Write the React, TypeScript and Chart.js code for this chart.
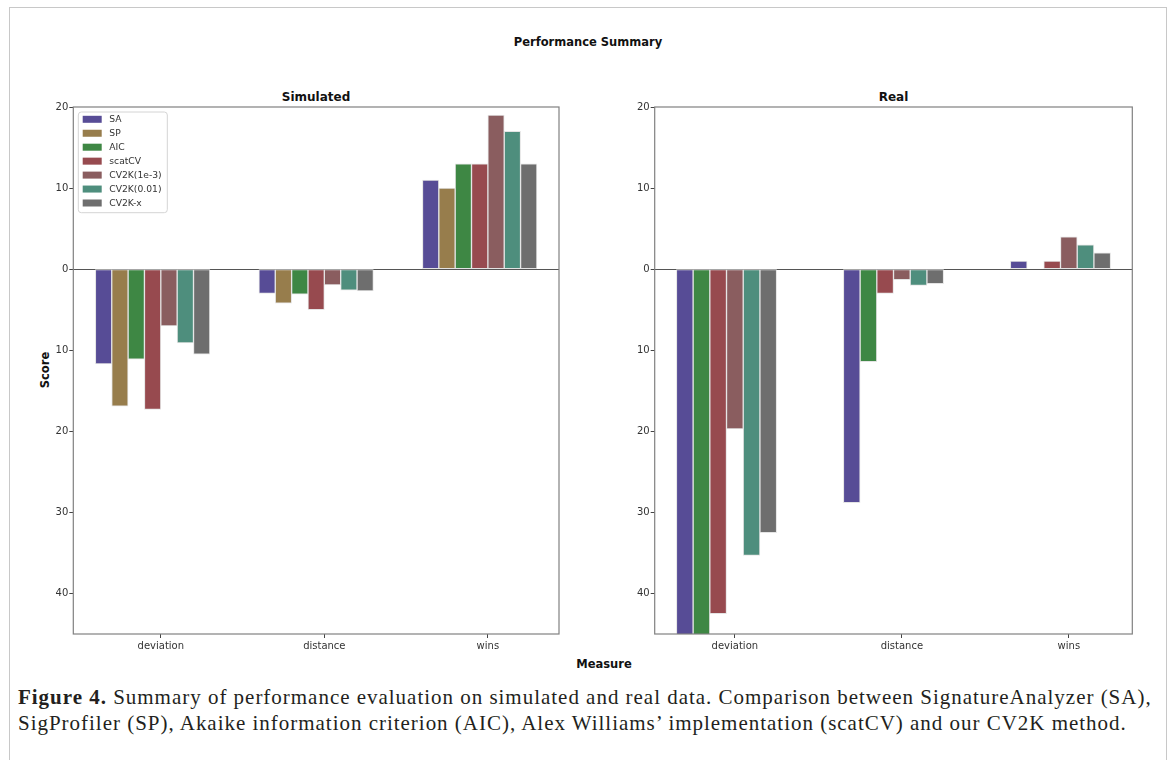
import React, { useEffect, useRef } from 'react';
import { Chart, registerables } from 'chart.js';

Chart.register(...registerables);

// ---------- data ----------
const categories = ['deviation', 'distance', 'wins'];
const methods = ['SA', 'SP', 'AIC', 'scatCV', 'CV2K(1e-3)', 'CV2K(0.01)', 'CV2K-x'];
const yTickValues = [-40, -30, -20, -10, 0, 10, 20];

// Simulated (one value per category)
const simSA = [-11.7, -3.0, 11];
const simSP = [-16.9, -4.2, 10];
const simAIC = [-11.1, -3.1, 13];
const simScatCV = [-17.3, -5.0, 13];
const simCV2K1e3 = [-7.0, -1.95, 19];
const simCV2K001 = [-9.1, -2.6, 17];
const simCV2Kx = [-10.5, -2.7, 13];

// Real (SP not available)
const realSA = [-52, -28.8, 1];
const realSP: number[] | null = null;
const realAIC = [-50, -11.4, 0];
const realScatCV = [-42.5, -3.0, 1];
const realCV2K1e3 = [-19.7, -1.3, 4];
const realCV2K001 = [-35.3, -2.0, 3];
const realCV2Kx = [-32.5, -1.8, 2];

const simSeries = [simSA, simSP, simAIC, simScatCV, simCV2K1e3, simCV2K001, simCV2Kx];
const realSeries = [realSA, realSP, realAIC, realScatCV, realCV2K1e3, realCV2K001, realCV2Kx];

// ---------- styles ----------
const palette = ['#574c96', '#977d4c', '#3e8744', '#974a4f', '#8a5d5f', '#4e8e7d', '#6e6e6e'];
const BAR_W = 0.1;
const FONT = "'DejaVu Sans', sans-serif";

function buildDatasets(series: (number[] | null)[]) {
  const present = series.map((s, i) => (s ? i : -1)).filter((i) => i >= 0);
  const n = present.length;
  return present.map((mi, k) => ({
    label: methods[mi],
    data: categories.map((_, ci) => ({ x: ci + (k - n / 2) * BAR_W, y: (series[mi] as number[])[ci] })),
    backgroundColor: palette[mi],
    borderColor: '#e4e4e4',
    borderWidth: 1,
    borderSkipped: false as const,
    clip: 0,
  }));
}

function xLimits(n: number) {
  const lo = -(n / 2 + 0.5) * BAR_W;
  const hi = categories.length - 1 + (n / 2 - 0.5) * BAR_W;
  const m = (hi - lo) * 0.05;
  return { min: lo - m, max: hi + m };
}

const framePlugin = {
  id: 'frame',
  afterDatasetsDraw(chart: any) {
    const { ctx, chartArea: a } = chart;
    ctx.save();
    ctx.strokeStyle = '#808080';
    ctx.lineWidth = 1.2;
    ctx.strokeRect(a.left, a.top, a.right - a.left, a.bottom - a.top);
    ctx.restore();
  },
};

const innerLegendPlugin = {
  id: 'innerLegend',
  afterDatasetsDraw(chart: any, _args: any, opts: any) {
    if (!opts || !opts.display) return;
    const { ctx, chartArea: a } = chart;
    const x0 = a.left + 5;
    const y0 = a.top + 5;
    const w = 89;
    const h = 100.7;
    ctx.save();
    ctx.beginPath();
    const r = 3;
    ctx.moveTo(x0 + r, y0);
    ctx.arcTo(x0 + w, y0, x0 + w, y0 + h, r);
    ctx.arcTo(x0 + w, y0 + h, x0, y0 + h, r);
    ctx.arcTo(x0, y0 + h, x0, y0, r);
    ctx.arcTo(x0, y0, x0 + w, y0, r);
    ctx.closePath();
    ctx.fillStyle = 'rgba(255,255,255,0.85)';
    ctx.fill();
    ctx.strokeStyle = '#d4d4d4';
    ctx.lineWidth = 1;
    ctx.stroke();
    ctx.font = `9.2px ${FONT}`;
    ctx.textBaseline = 'middle';
    ctx.textAlign = 'left';
    chart.data.datasets.forEach((ds: any, i: number) => {
      const cy = y0 + 7.3 + i * 13.95;
      ctx.fillStyle = ds.backgroundColor;
      ctx.fillRect(x0 + 4.4, cy - 3.5, 19, 7);
      ctx.fillStyle = '#333';
      ctx.fillText(ds.label, x0 + 31, cy + 0.5);
    });
    ctx.restore();
  },
};

function makeConfig(series: (number[] | null)[], yWidth: number, padRight: number, legend: boolean) {
  const datasets = buildDatasets(series);
  const lim = xLimits(datasets.length);
  return {
    type: 'bar' as const,
    data: { datasets },
    options: {
      animation: false as const,
      responsive: false,
      maintainAspectRatio: false,
      layout: { padding: { top: 5, right: padRight, left: 0, bottom: 0 } },
      datasets: { bar: { grouped: false, barPercentage: 1, categoryPercentage: 1 } },
      scales: {
        x: {
          type: 'linear' as const,
          min: lim.min,
          max: lim.max,
          offset: false,
          afterBuildTicks: (ax: any) => {
            ax.ticks = categories.map((_, i) => ({ value: i }));
          },
          afterFit: (ax: any) => {
            ax.height = 26;
          },
          ticks: {
            autoSkip: false,
            maxRotation: 0,
            padding: 2,
            color: '#333',
            font: { family: FONT, size: 10 },
            callback: (v: any) => categories[Math.round(v)] ?? '',
          },
          grid: { drawOnChartArea: false, offset: false, tickLength: 4, tickColor: '#444', color: '#444' },
          border: { display: false },
        },
        y: {
          min: -45,
          max: 20,
          afterBuildTicks: (ax: any) => {
            ax.ticks = yTickValues.map((v) => ({ value: v }));
          },
          afterFit: (ax: any) => {
            ax.width = yWidth;
          },
          ticks: {
            padding: 1,
            color: '#333',
            font: { family: FONT, size: 10 },
            callback: (v: any) => String(Math.abs(v)),
          },
          grid: {
            color: (c: any) => (c.tick && c.tick.value === 0 ? '#555' : 'rgba(0,0,0,0)'),
            lineWidth: 1,
            tickColor: '#444',
            tickLength: 4,
          },
          border: { display: false },
        },
      },
      plugins: {
        legend: { display: false },
        tooltip: { enabled: false },
        innerLegend: { display: legend },
      },
    },
    plugins: [framePlugin, innerLegendPlugin],
  };
}

function ChartCanvas(props: {
  series: (number[] | null)[];
  left: number;
  width: number;
  yWidth: number;
  padRight: number;
  legend: boolean;
}) {
  const ref = useRef<HTMLCanvasElement | null>(null);
  useEffect(() => {
    if (!ref.current) return;
    const chart = new Chart(ref.current, makeConfig(props.series, props.yWidth, props.padRight, props.legend) as any);
    return () => chart.destroy();
  }, []);
  return (
    <canvas
      ref={ref}
      width={props.width}
      height={560}
      style={{ position: 'absolute', left: props.left, top: 100, width: props.width, height: 560 }}
    />
  );
}

const boldSans: React.CSSProperties = {
  position: 'absolute',
  fontFamily: FONT,
  fontWeight: 'bold',
  fontSize: 11.5,
  lineHeight: '1',
  color: '#111',
  whiteSpace: 'nowrap',
};

export default function App() {
  useEffect(() => {
    document.body.style.margin = '0';
  }, []);
  return (
    <div style={{ position: 'relative', width: 1174, height: 760, background: '#fff', overflow: 'hidden' }}>
      <div
        style={{
          position: 'absolute',
          left: 9,
          top: 7,
          width: 1158,
          height: 800,
          border: '1.5px solid #c8c8c8',
          boxSizing: 'border-box',
        }}
      />
      <div style={{ ...boldSans, left: 588, top: 36.5, transform: 'translateX(-50%)' }}>Performance Summary</div>
      <div style={{ ...boldSans, left: 316, top: 90.5, transform: 'translateX(-50%)', fontSize: 12 }}>Simulated</div>
      <div style={{ ...boldSans, left: 893.5, top: 90.5, transform: 'translateX(-50%)', fontSize: 12 }}>Real</div>
      <div
        style={{
          ...boldSans,
          left: 45.5,
          top: 369.5,
          transform: 'translate(-50%, -50%) rotate(-90deg)',
        }}
      >
        Score
      </div>
      <div style={{ ...boldSans, left: 604, top: 659, transform: 'translateX(-50%)' }}>Measure</div>

      <ChartCanvas series={simSeries} left={20} width={541} yWidth={53.3} padRight={2} legend={true} />
      <ChartCanvas series={realSeries} left={600} width={535} yWidth={54.7} padRight={2.7} legend={false} />

      <div
        style={{
          position: 'absolute',
          left: 18,
          top: 684,
          width: 1152,
          fontFamily: "'Liberation Serif', 'Times New Roman', serif",
          fontSize: 21,
          letterSpacing: '0.98px',
          lineHeight: '26px',
          color: '#231f20',
          whiteSpace: 'nowrap',
        }}
      >
        <b>Figure 4.</b> Summary of performance evaluation on simulated and real data. Comparison between SignatureAnalyzer (SA),
        <br />
        SigProfiler (SP), Akaike information criterion (AIC), Alex Williams’ implementation (scatCV) and our CV2K method.
      </div>
    </div>
  );
}
